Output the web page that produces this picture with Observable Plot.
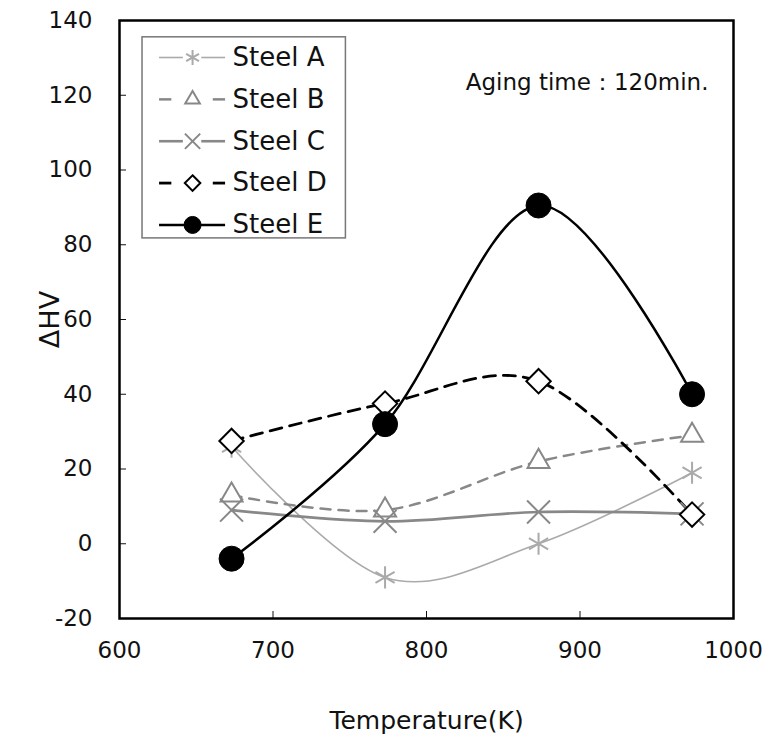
<!DOCTYPE html>
<html><head><meta charset="utf-8">
<script src="https://cdn.jsdelivr.net/npm/d3@7"></script>
<script src="https://cdn.jsdelivr.net/npm/@observablehq/plot@0.6"></script>
<style>body{margin:0;background:#fff;} svg{font-family:"DejaVu Sans",sans-serif;}</style>
</head><body><div id="chart"></div>
<script>
const temperatures = [673, 773, 873, 973];
const steelA = [26, -9, 0, 19];
const steelB = [13, 9, 22, 29];
const steelC = [9, 6, 8.5, 8];
const steelD = [27.5, 37.5, 43.5, 7.8];
const steelE = [-4, 32, 90.5, 40];
const seriesNames = ["Steel A", "Steel B", "Steel C", "Steel D", "Steel E"];
const xTicks = [600, 700, 800, 900, 1000];
const yTicks = [-20, 0, 20, 40, 60, 80, 100, 120, 140];

const values = [steelA, steelB, steelC, steelD, steelE];
const styles = {
  "Steel A": {stroke: "#aaaaaa", sw: 1.6, dash: null, symbol: "asterisk", fill: "none", r: 10.5, msw: 2},
  "Steel B": {stroke: "#888888", sw: 2.5, dash: "10,8", symbol: "triangle2", fill: "white", r: 10.5, msw: 2},
  "Steel C": {stroke: "#888888", sw: 2.6, dash: null, symbol: "times", fill: "none", r: 10.5, msw: 2},
  "Steel D": {stroke: "#000000", sw: 2.8, dash: "12,8", symbol: "diamond2", fill: "white", r: 11, msw: 2},
  "Steel E": {stroke: "#000000", sw: 2.5, dash: null, symbol: "circle", fill: "black", r: 12.5, msw: 1}
};
const rows = [];
seriesNames.forEach((s, i) => temperatures.forEach((t, j) => rows.push({series: s, t, v: values[i][j]})));

const curve = d3.curveCatmullRom.alpha(0);
const marks = [];
seriesNames.forEach(s => {
  const st = styles[s];
  const data = rows.filter(d => d.series === s);
  marks.push(Plot.line(data, {x: "t", y: "v", curve, stroke: st.stroke, strokeWidth: st.sw, strokeDasharray: st.dash}));
});
seriesNames.forEach(s => {
  const st = styles[s];
  const data = rows.filter(d => d.series === s);
  marks.push(Plot.dot(data, {x: "t", y: "v", symbol: () => st.symbol, r: st.r, stroke: st.stroke, fill: st.fill, strokeWidth: st.msw}));
});

// legend placed in data space
const legTop = 130.1, legStep = 11.2;
const legX1 = 626.1, legX2 = 669.1, legXm = 647.6, legXt = 673.6;
const legend = seriesNames.map((s, i) => ({series: s, y: legTop - i * legStep}));
marks.push(Plot.rect([{x1: 615.0, x2: 747.5, y1: 81.7, y2: 135.5}], {x1: "x1", x2: "x2", y1: "y1", y2: "y2", fill: "white", stroke: "#777", strokeWidth: 1.5}));
legend.forEach(L => {
  const st = styles[L.series];
  const gap = st.symbol === "circle" ? 0 : (st.dash ? 9.5 : 6);
  const a1 = st.dash ? [legX1, legX1 + 8] : [legX1, legXm - gap];
  const a2 = st.dash ? [legX2 - 8, legX2] : [legXm + gap, legX2];
  marks.push(Plot.ruleY([L], {y: "y", x1: a1[0], x2: a1[1], stroke: st.stroke, strokeWidth: st.sw}));
  marks.push(Plot.ruleY([L], {y: "y", x1: a2[0], x2: a2[1], stroke: st.stroke, strokeWidth: st.sw}));
  marks.push(Plot.dot([L], {x: legXm, y: "y", symbol: () => st.symbol, r: st.symbol === "circle" ? 8.5 : 7, stroke: st.stroke, fill: st.fill, strokeWidth: st.msw}));
  marks.push(Plot.text([L], {x: legXt, y: "y", text: "series", textAnchor: "start", fontSize: 26, fill: "#111"}));
});

marks.push(Plot.text(["Aging time：120min."], {frameAnchor: "top-right", dx: -25, dy: 53, fontSize: 23, fill: "#111"}));
marks.push(Plot.axisX({ticks: xTicks, tickFormat: d => String(d), tickSize: -7, tickPadding: 30, fontSize: 23, label: null}));
marks.push(Plot.axisY({ticks: yTicks, tickFormat: d => String(d), tickSize: -7, tickPadding: 34, fontSize: 23, label: null}));
marks.push(Plot.axisX({ticks: [], tickSize: 0, fontSize: 25, label: "Temperature(K)", labelAnchor: "center", labelArrow: "none", labelOffset: 110}));
marks.push(Plot.axisY({ticks: [], tickSize: 0, fontSize: 27, label: "ΔHV", labelAnchor: "center", labelArrow: "none", labelOffset: 80}));
marks.push(Plot.frame({stroke: "black", strokeWidth: 2.5}));

const chart = Plot.plot({
  width: 769, height: 738,
  marginLeft: 119, marginRight: 36, marginTop: 20, marginBottom: 120,
  x: {domain: [600, 1000]},
  y: {domain: [-20, 140]},
  style: {fontSize: "25px", color: "#111"},
  marks
});
document.getElementById("chart").appendChild(chart);
</script></body></html>
